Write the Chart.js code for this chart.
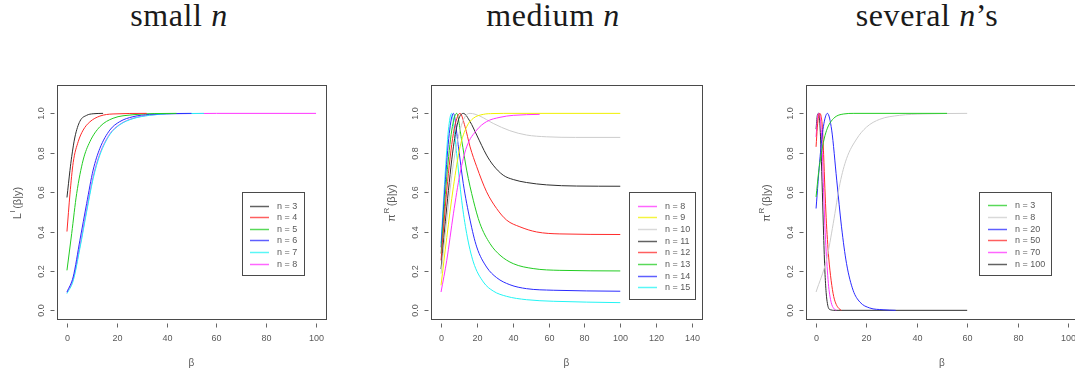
<!DOCTYPE html>
<html>
<head>
<meta charset="utf-8">
<script src="https://cdn.jsdelivr.net/npm/chart.js@4.4.1/dist/chart.umd.min.js"></script>
<style>
  html, body { margin: 0; padding: 0; background: #fff; overflow: hidden; width: 1075px; height: 370px; }
  canvas { position: absolute; left: 0; top: 0; }
  .title { position: absolute; top: 0; font-family: "Liberation Serif", "Times New Roman", serif; font-size: 32px; line-height: 31px; letter-spacing: 0.6px; color: #1a1a1a; white-space: nowrap; transform: translateX(-50%); }
</style>
</head>
<body>
<div class="title" style="left:179px">small <i>n</i></div>
<div class="title" style="left:553px">medium <i>n</i></div>
<div class="title" style="left:927px">several <i>n</i>’s</div>
<canvas id="smallChart" width="1090" height="370"></canvas>
<canvas id="mediumChart" width="1090" height="370"></canvas>
<canvas id="severalChart" width="1090" height="370"></canvas>
<script>
// tick labels
const smallXTicks = [0, 20, 40, 60, 80, 100];
const mediumXTicks = [0, 20, 40, 60, 80, 100, 120, 140];
const severalXTicks = [0, 20, 40, 60, 80, 100];
const yTicks = [0, 0.2, 0.4, 0.6, 0.8, 1.0];

// small n
const small3Beta = [0, 1.2, 1.9, 3.2, 5.2, 7.9, 10.5, 14.5];
const small3 = [0.573, 0.71, 0.78, 0.88, 0.96, 0.99, 0.998, 1.0];
const small4Beta = [0, 1.2, 2.5, 4.5, 6.5, 9.2, 13.2, 18.5, 32];
const small4 = [0.40, 0.59, 0.75, 0.856, 0.915, 0.957, 0.986, 0.997, 1.0];
const small5Beta = [0, 1.9, 3.9, 6.5, 9.2, 13.2, 18.5, 26.5, 35, 44];
const small5 = [0.203, 0.39, 0.593, 0.763, 0.856, 0.932, 0.975, 0.993, 0.999, 1.0];
const small6Beta = [0, 2.5, 5.2, 7.9, 10.5, 13.2, 17.2, 21.2, 26.5, 33.2, 42, 50];
const small6 = [0.093, 0.17, 0.356, 0.542, 0.712, 0.822, 0.915, 0.958, 0.983, 0.995, 0.999, 1.0];
const small7Beta = [0, 2.5, 5.2, 7.9, 10.5, 13.2, 17.2, 21.2, 26.5, 33.2, 39.9, 47, 55];
const small7 = [0.085, 0.15, 0.315, 0.5, 0.668, 0.788, 0.892, 0.942, 0.973, 0.99, 0.997, 0.999, 1.0];
const small8Beta = [0, 2.5, 5.2, 7.9, 10.5, 13.2, 17.2, 21.2, 26.5, 33.2, 39.9, 50, 60, 100];
const small8 = [0.09, 0.158, 0.325, 0.51, 0.678, 0.795, 0.896, 0.944, 0.975, 0.991, 0.997, 0.999, 1.0, 1.0];

// medium n
const med8Beta = [0, 3.2, 6.9, 10.6, 14.3, 19.9, 25.4, 32.9, 40.3, 55];
const med8 = [0.093, 0.254, 0.49, 0.695, 0.83, 0.915, 0.958, 0.98, 0.99, 0.995];
const med9Beta = [0, 3.2, 6.9, 10.6, 14.3, 18, 23.6, 29, 35, 100];
const med9 = [0.127, 0.37, 0.627, 0.83, 0.932, 0.975, 0.995, 0.999, 1.0, 1.0];
const med10Beta = [0, 3.2, 6.9, 10.6, 13.4, 16.2, 21.7, 29.1, 38.4, 47.7, 58.9, 75, 100];
const med10 = [0.186, 0.46, 0.746, 0.915, 0.983, 1.0, 0.986, 0.949, 0.912, 0.89, 0.881, 0.878, 0.878];
const med11Beta = [0, 3.2, 6.9, 9.7, 12.4, 16.2, 19.9, 25.4, 29.1, 34.7, 40.3, 47.7, 58.9, 75.6, 100];
const med11 = [0.21, 0.525, 0.83, 0.966, 1.0, 0.958, 0.89, 0.788, 0.737, 0.686, 0.664, 0.649, 0.637, 0.631, 0.63];
const med12Beta = [0, 3.2, 6.9, 10.6, 13.4, 16.2, 19.9, 25.4, 31, 36.6, 44, 53.3, 66.3, 100];
const med12 = [0.254, 0.61, 0.898, 1.0, 0.932, 0.83, 0.729, 0.602, 0.517, 0.458, 0.424, 0.398, 0.388, 0.385];
const med13Beta = [0, 3.2, 6.0, 8.7, 11.5, 14.3, 18, 21.7, 27.3, 32.9, 40.3, 51.4, 66.3, 100];
const med13 = [0.288, 0.678, 0.915, 1.0, 0.864, 0.712, 0.559, 0.441, 0.339, 0.28, 0.237, 0.212, 0.203, 0.2];
const med14Beta = [0, 2.2, 4.6, 6.9, 9.7, 12.4, 16.2, 19.9, 25.4, 31, 38.4, 47.7, 62.6, 100];
const med14 = [0.32, 0.627, 0.898, 1.0, 0.83, 0.644, 0.458, 0.322, 0.22, 0.166, 0.13, 0.11, 0.102, 0.097];
const med15Beta = [0, 2.2, 4.1, 5.9, 8.7, 11.5, 14.3, 18, 23.6, 29.1, 36.6, 47.7, 62.6, 100];
const med15 = [0.34, 0.678, 0.915, 1.0, 0.797, 0.559, 0.39, 0.246, 0.144, 0.098, 0.071, 0.054, 0.046, 0.039];

// several n's
const sev3Beta = [0, 1, 2, 3.2, 4.5, 6, 8, 11, 15, 52];
const sev3 = [0.576, 0.70, 0.79, 0.87, 0.925, 0.96, 0.985, 0.997, 1.0, 1.0];
const sev8Beta = [0, 4.2, 6.8, 9.5, 12.1, 16.1, 20, 25.3, 33.2, 42.4, 60];
const sev8 = [0.093, 0.26, 0.44, 0.645, 0.77, 0.87, 0.93, 0.97, 0.99, 0.997, 1.0];
const sev20Beta = [0, 1.6, 2.9, 4.5, 6.2, 8.2, 10.1, 12.1, 14.7, 17.4, 21.3, 26.6, 31.6];
const sev20 = [0.517, 0.78, 0.932, 1.0, 0.915, 0.661, 0.424, 0.237, 0.102, 0.042, 0.012, 0.003, 0.0];
const sev50Beta = [0, 0.5, 1, 1.5, 2, 2.5, 3, 3.5, 4, 4.5, 5, 6, 7, 8, 9, 10];
const sev50 = [0.83, 0.93, 0.985, 1.0, 0.985, 0.93, 0.79, 0.62, 0.47, 0.36, 0.27, 0.15, 0.07, 0.03, 0.01, 0];
const sev70Beta = [0, 0.5, 1, 1.5, 2, 2.5, 3, 3.5, 4, 4.5, 5, 6, 7, 8];
const sev70 = [0.88, 0.97, 1.0, 0.99, 0.93, 0.8, 0.6, 0.43, 0.3, 0.2, 0.12, 0.04, 0.01, 0];
const sev100Beta = [0, 0.5, 1, 1.5, 2, 2.5, 3, 3.5, 4, 4.5, 5, 6, 7, 60];
const sev100 = [0.92, 0.99, 1.0, 0.95, 0.8, 0.6, 0.38, 0.2, 0.09, 0.035, 0.01, 0.002, 0, 0];

const colors = {
  black: '#2e2e2e', red: '#ff2a2a', green: '#22cc22', blue: '#2a2aff',
  cyan: '#22f4f4', magenta: '#ff33ff', yellow: '#f0f000', gray: '#cccccc'
};

function pts(xs, ys) {
  return xs.map((x, i) => ({ x: x, y: ys[i] }));
}

function series(label, xs, ys, color) {
  return {
    label: label,
    data: pts(xs, ys),
    borderColor: color,
    borderWidth: 1,
    pointRadius: 0,
    fill: false,
    cubicInterpolationMode: 'monotone'
  };
}

const rFrame = {
  id: 'rFrame',
  afterDraw(chart, args, opts) {
    const ctx = chart.ctx;
    const area = chart.chartArea;
    const xs = chart.scales.x;
    const ys = chart.scales.y;
    const left = Math.round(area.left) + 0.5;
    const right = Math.round(area.right) + 0.5;
    const top = Math.round(area.top) + 0.5;
    const bottom = Math.round(area.bottom) + 0.5;
    const font = '"Liberation Sans", Arial, sans-serif';

    ctx.save();
    ctx.strokeStyle = '#4a4a4a';
    ctx.lineWidth = 1;
    ctx.strokeRect(left, top, right - left, bottom - top);

    // axes, R style
    ctx.fillStyle = '#5a5a5a';
    ctx.strokeStyle = '#666';
    ctx.font = '9px ' + font;
    ctx.textAlign = 'center';
    ctx.textBaseline = 'middle';
    opts.xTicks.forEach(v => {
      const px = Math.round(xs.getPixelForValue(v)) + 0.5;
      ctx.beginPath();
      ctx.moveTo(px, bottom + 4);
      ctx.lineTo(px, bottom + 8);
      ctx.stroke();
      ctx.fillText(String(v), px, bottom + 19);
    });
    yTicks.forEach(v => {
      const py = Math.round(ys.getPixelForValue(v)) + 0.5;
      ctx.beginPath();
      ctx.moveTo(left - 7, py);
      ctx.lineTo(left - 3, py);
      ctx.stroke();
      ctx.save();
      ctx.translate(left - 15.5, py);
      ctx.rotate(-Math.PI / 2);
      ctx.fillText(v.toFixed(1), 0, 0);
      ctx.restore();
    });

    ctx.font = '10px ' + font;
    ctx.fillText('β', (area.left + area.right) / 2, 363);

    // y label with superscript
    ctx.save();
    ctx.translate(area.left - 40, 203);
    ctx.rotate(-Math.PI / 2);
    ctx.textAlign = 'left';
    ctx.textBaseline = 'alphabetic';
    ctx.font = '11px ' + font;
    const wMain = ctx.measureText(opts.yMain).width;
    const wRest = ctx.measureText(opts.yRest).width;
    ctx.font = '8px ' + font;
    const wSup = ctx.measureText(opts.ySup).width;
    let x0 = -(wMain + wSup + wRest + 2) / 2;
    ctx.font = '11px ' + font;
    ctx.fillText(opts.yMain, x0, 4);
    x0 += wMain + 0.5;
    ctx.font = '8px ' + font;
    ctx.fillText(opts.ySup, x0, -2);
    x0 += wSup + 1.5;
    ctx.font = '11px ' + font;
    ctx.fillText(opts.yRest, x0, 4);
    ctx.restore();

    // legend box
    const lg = opts.legend;
    ctx.strokeStyle = '#4a4a4a';
    ctx.strokeRect(lg.x1 + 0.5, lg.y1 + 0.5, lg.x2 - lg.x1, lg.y2 - lg.y1);
    ctx.font = '9px ' + font;
    ctx.textAlign = 'left';
    ctx.textBaseline = 'middle';
    chart.data.datasets.forEach((ds, i) => {
      const y = Math.round(lg.row0 + i * lg.step) + 0.5;
      ctx.strokeStyle = ds.borderColor;
      ctx.globalAlpha = 0.75;
      ctx.lineWidth = 1.5;
      ctx.beginPath();
      ctx.moveTo(lg.lineX1, y);
      ctx.lineTo(lg.lineX2, y);
      ctx.stroke();
      ctx.globalAlpha = 1;
      ctx.fillStyle = '#5a5a5a';
      ctx.fillText(ds.label, lg.textX, y);
    });
    ctx.restore();
  }
};

function makeChart(id, datasets, xMin, xMax, padding, frame) {
  return new Chart(document.getElementById(id), {
    type: 'line',
    data: { datasets: datasets },
    options: {
      responsive: false,
      animation: false,
      events: [],
      layout: { padding: padding },
      plugins: { legend: { display: false }, tooltip: { enabled: false }, rFrame: frame },
      scales: {
        x: { type: 'linear', min: xMin, max: xMax, display: false },
        y: { type: 'linear', min: -0.044, max: 1.144, display: false }
      }
    },
    plugins: [rFrame]
  });
}

makeChart('smallChart', [
  series('n = 3', small3Beta, small3, colors.black),
  series('n = 4', small4Beta, small4, colors.red),
  series('n = 5', small5Beta, small5, colors.green),
  series('n = 6', small6Beta, small6, colors.blue),
  series('n = 7', small7Beta, small7, colors.cyan),
  series('n = 8', small8Beta, small8, colors.magenta)
], -4, 104, { left: 57, right: 1090 - 326, top: 85, bottom: 370 - 319 }, {
  xTicks: smallXTicks, yMain: 'L', ySup: 'I', yRest: '(β|y)',
  legend: { x1: 242, y1: 192, x2: 304, y2: 275, row0: 205.5, step: 11.65, lineX1: 250, lineX2: 269, textX: 277 }
});

makeChart('mediumChart', [
  series('n = 8', med8Beta, med8, colors.magenta),
  series('n = 9', med9Beta, med9, colors.yellow),
  series('n = 10', med10Beta, med10, colors.gray),
  series('n = 11', med11Beta, med11, colors.black),
  series('n = 12', med12Beta, med12, colors.red),
  series('n = 13', med13Beta, med13, colors.green),
  series('n = 14', med14Beta, med14, colors.blue),
  series('n = 15', med15Beta, med15, colors.cyan)
], -5.6, 145.6, { left: 431, right: 1090 - 702, top: 85, bottom: 370 - 319 }, {
  xTicks: mediumXTicks, yMain: 'π', ySup: 'R', yRest: '(β|y)',
  legend: { x1: 629, y1: 192, x2: 695, y2: 299, row0: 205.5, step: 11.7, lineX1: 638, lineX2: 657, textX: 665 }
});

makeChart('severalChart', [
  series('n = 3', sev3Beta, sev3, colors.green),
  series('n = 8', sev8Beta, sev8, colors.gray),
  series('n = 20', sev20Beta, sev20, colors.blue),
  series('n = 50', sev50Beta, sev50, colors.red),
  series('n = 70', sev70Beta, sev70, colors.magenta),
  series('n = 100', sev100Beta, sev100, colors.black)
], -4, 104, { left: 806, right: 1090 - 1078, top: 85, bottom: 370 - 319 }, {
  xTicks: severalXTicks, yMain: 'π', ySup: 'R', yRest: '(β|y)',
  legend: { x1: 979, y1: 192, x2: 1051, y2: 275, row0: 205.3, step: 11.7, lineX1: 988, lineX2: 1007, textX: 1015 }
});
</script>
</body>
</html>
